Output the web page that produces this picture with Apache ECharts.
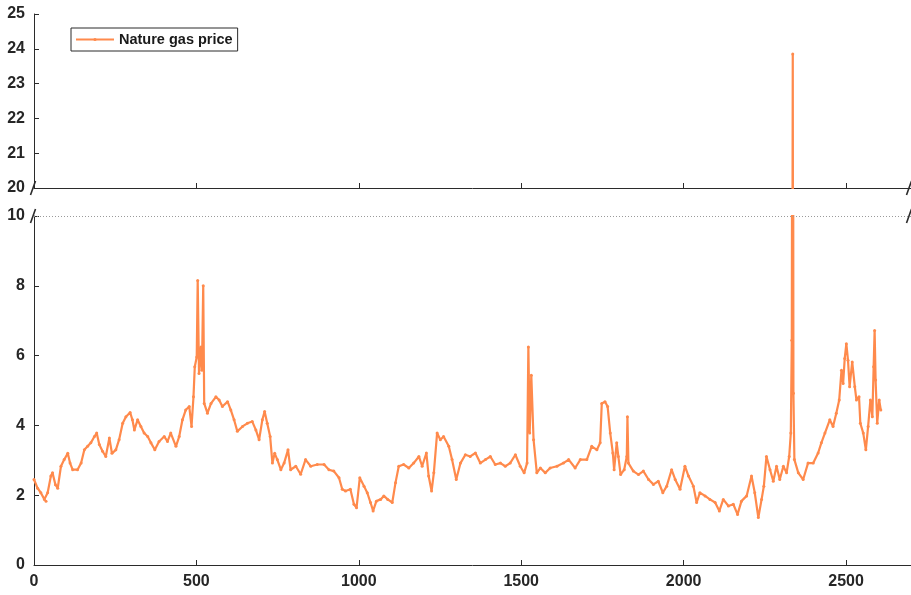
<!DOCTYPE html>
<html>
<head>
<meta charset="utf-8">
<script src="https://cdn.jsdelivr.net/npm/echarts@6/dist/echarts.min.js"></script>
<style>
  html, body { margin: 0; padding: 0; background: #fff; }
  #chart { width: 911px; height: 595px; }
</style>
</head>
<body>
<div id="chart"></div>
<script>
// Observation index (trading day number)
const dayIndex = [
  0, 11, 21, 32, 37, 42, 52, 57, 66, 73, 83, 93, 104, 111, 119, 134, 145, 155, 165, 175,
  186, 193, 201, 211, 221, 232, 240, 252, 262, 273, 283, 296, 303, 309, 319, 329, 339, 350, 360, 372,
  385, 401, 411, 421, 437, 447, 457, 467, 478, 485, 491, 495, 501, 504, 508, 514, 517, 521, 524, 534,
  545, 560, 570, 580, 596, 606, 616, 626, 642, 657, 672, 683, 693, 703, 710, 718, 727, 734, 741, 749,
  760, 770, 782, 790, 806, 821, 836, 852, 872, 893, 908, 923, 939, 949, 959, 974, 985, 993, 1003, 1016,
  1026, 1036, 1044, 1054, 1067, 1077, 1089, 1103, 1113, 1123, 1138, 1154, 1169, 1185, 1195, 1208, 1215, 1224, 1231, 1241,
  1251, 1261, 1277, 1287, 1300, 1313, 1328, 1343, 1359, 1374, 1390, 1405, 1420, 1436, 1451, 1466, 1482, 1497, 1509, 1518,
  1522, 1526, 1531, 1538, 1548, 1559, 1574, 1589, 1610, 1630, 1646, 1666, 1682, 1702, 1717, 1733, 1743, 1748, 1758, 1766,
  1774, 1782, 1786, 1794, 1799, 1806, 1817, 1825, 1827, 1830, 1845, 1861, 1876, 1892, 1907, 1922, 1936, 1948, 1963, 1974,
  1989, 2004, 2015, 2030, 2040, 2050, 2066, 2081, 2097, 2110, 2122, 2138, 2153, 2166, 2178, 2194, 2209, 2219, 2230, 2240,
  2247, 2255, 2266, 2276, 2286, 2296, 2307, 2317, 2325, 2330, 2333, 2336, 2338, 2341, 2353, 2368, 2383, 2399, 2414, 2424,
  2435, 2450, 2460, 2470, 2479, 2486, 2491, 2496, 2501, 2506, 2511, 2519, 2527, 2532, 2540, 2544, 2553, 2561, 2568, 2575,
  2581, 2585, 2588, 2591, 2596, 2602, 2607
];

// Natural gas price at each observation
const gasPrice = [
  2.45, 2.2, 2.07, 1.88, 1.83, 2.07, 2.55, 2.64, 2.3, 2.2, 2.83, 3.02, 3.2, 2.92, 2.73, 2.73, 2.92, 3.3, 3.4, 3.5,
  3.68, 3.78, 3.45, 3.26, 3.11, 3.64, 3.2, 3.3, 3.59, 4.06, 4.25, 4.37, 4.16, 3.87, 4.16, 3.97, 3.78, 3.68, 3.5, 3.3,
  3.54, 3.68, 3.54, 3.78, 3.4, 3.68, 4.16, 4.44, 4.54, 3.97, 4.82, 5.68, 5.96, 8.15, 5.49, 6.25, 5.58, 8.0, 4.63, 4.35,
  4.63, 4.82, 4.73, 4.54, 4.68, 4.44, 4.16, 3.83, 3.97, 4.06, 4.11, 3.87, 3.59, 4.16, 4.4, 4.06, 3.68, 2.92, 3.2, 3.02,
  2.73, 2.92, 3.3, 2.73, 2.83, 2.6, 3.02, 2.83, 2.88, 2.88, 2.73, 2.69, 2.5, 2.17, 2.12, 2.17, 1.74, 1.64, 2.5, 2.26,
  2.07, 1.79, 1.55, 1.83, 1.88, 1.98, 1.88, 1.79, 2.36, 2.83, 2.88, 2.78, 2.92, 3.11, 2.83, 3.21, 2.55, 2.12, 2.64, 3.78,
  3.59, 3.68, 3.4, 3.02, 2.45, 2.92, 3.16, 3.11, 3.21, 2.92, 3.02, 3.11, 2.88, 2.92, 2.83, 2.92, 3.16, 2.83, 2.64, 2.92,
  6.25, 3.78, 5.44, 3.59, 2.64, 2.78, 2.64, 2.78, 2.83, 2.92, 3.02, 2.78, 3.02, 3.02, 3.4, 3.3, 3.5, 4.63, 4.68, 4.54,
  3.78, 3.21, 2.73, 3.5, 3.11, 2.59, 2.73, 3.11, 4.25, 2.92, 2.69, 2.59, 2.69, 2.45, 2.31, 2.4, 2.07, 2.26, 2.73, 2.45,
  2.17, 2.83, 2.55, 2.26, 1.79, 2.07, 1.98, 1.88, 1.79, 1.55, 1.88, 1.69, 1.74, 1.45, 1.83, 1.98, 2.55, 2.07, 1.36, 1.88,
  2.26, 3.11, 2.73, 2.4, 2.83, 2.45, 2.83, 2.64, 3.11, 3.78, 6.44, 23.85, 4.92, 3.02, 2.64, 2.45, 2.92, 2.92, 3.21, 3.5,
  3.78, 4.16, 3.97, 4.35, 4.73, 5.58, 5.2, 5.92, 6.34, 5.87, 5.11, 5.82, 5.11, 4.73, 4.82, 4.06, 3.78, 3.3, 3.97, 4.73,
  4.25, 5.68, 6.72, 5.3, 4.06, 4.73, 4.44
];

// Axis ranges and tick settings
const xTicks = { min: 0, max: 2700, interval: 500 };
const upperTicks = { min: 20, max: 25, interval: 1 };
const lowerTicks = { min: 0, max: 10, interval: 2 };
const seriesName = 'Nature gas price';

const points = dayIndex.map((d, k) => [d, gasPrice[k]]);

const lineColor = '#ff8a4c';
const axisColor = '#2b2b2b';
const labelFont = { color: '#262626', fontWeight: 'bold', fontSize: 16, fontFamily: 'Liberation Sans, Arial, sans-serif' };

// Panel layout (pixels)
const plotLeft = 34, plotWidth = 877;
const upper = { top: 14, height: 174 };
const lower = { top: 216, height: 349 };

function xAxisFor(gridIndex, showLabels) {
  return {
    type: 'value', gridIndex,
    min: xTicks.min, max: xTicks.max, interval: xTicks.interval,
    axisLine: { show: true, onZero: false, lineStyle: { color: axisColor, width: 1 } },
    axisTick: { show: true, inside: true, length: 5, lineStyle: { color: axisColor } },
    axisLabel: Object.assign({
      show: showLabels, margin: 9, showMaxLabel: false,
      formatter: v => String(v)
    }, labelFont),
    splitLine: { show: false }
  };
}
function yAxisFor(gridIndex, t) {
  return {
    type: 'value', gridIndex,
    min: t.min, max: t.max, interval: t.interval,
    axisLine: { show: true, onZero: false, lineStyle: { color: axisColor, width: 1 } },
    axisTick: { show: true, inside: true, length: 5, lineStyle: { color: axisColor } },
    axisLabel: Object.assign({ margin: 9, formatter: v => String(v) }, labelFont),
    splitLine: { show: false }
  };
}
function lineSeries(axisIndex, extra) {
  return Object.assign({
    name: seriesName,
    type: 'line',
    xAxisIndex: axisIndex, yAxisIndex: axisIndex,
    data: points,
    symbol: 'circle', symbolSize: 3,
    showSymbol: true,
    clip: true,
    animation: false,
    lineStyle: { color: lineColor, width: 2.2 },
    itemStyle: { color: lineColor }
  }, extra || {});
}

// Slanted break glyphs at both ends of the axis gap
function breakMark(x, y) {
  return {
    type: 'line', silent: true,
    shape: { x1: x - 2.5, y1: y + 7, x2: x + 2.5, y2: y - 7 },
    style: { stroke: axisColor, lineWidth: 1.6 }
  };
}
const upperBase = upper.top + upper.height;
const lowerTopY = lower.top;
const rightX = plotLeft + plotWidth - 2;

const chart = echarts.init(document.getElementById('chart'), null, { renderer: 'canvas' });
chart.setOption({
  backgroundColor: '#ffffff',
  animation: false,
  grid: [
    { left: plotLeft, width: plotWidth, top: upper.top, height: upper.height },
    { left: plotLeft, width: plotWidth, top: lower.top, height: lower.height }
  ],
  xAxis: [xAxisFor(0, false), xAxisFor(1, true)],
  yAxis: [yAxisFor(0, upperTicks), yAxisFor(1, lowerTicks)],
  legend: {
    left: 71, top: 28,
    orient: 'horizontal',
    padding: [4, 5, 4, 4],
    borderColor: axisColor, borderWidth: 1,
    backgroundColor: '#fff',
    itemWidth: 38, itemHeight: 4, itemGap: 4,
    textStyle: { color: '#1a1a1a', fontWeight: 'bold', fontSize: 14.5, fontFamily: 'Liberation Sans, Arial, sans-serif' },
    data: [seriesName]
  },
  series: [
    lineSeries(0),
    lineSeries(1, {
      markLine: {
        silent: true, symbol: 'none', animation: false,
        label: { show: false },
        lineStyle: { color: '#9a9a9a', type: [1, 2], width: 1 },
        data: [{ yAxis: lowerTicks.max }]
      }
    })
  ],
  graphic: [
    breakMark(plotLeft - 1, upperBase),
    breakMark(plotLeft - 1, lowerTopY),
    breakMark(rightX, upperBase),
    breakMark(rightX, lowerTopY)
  ]
});
</script>
</body>
</html>
